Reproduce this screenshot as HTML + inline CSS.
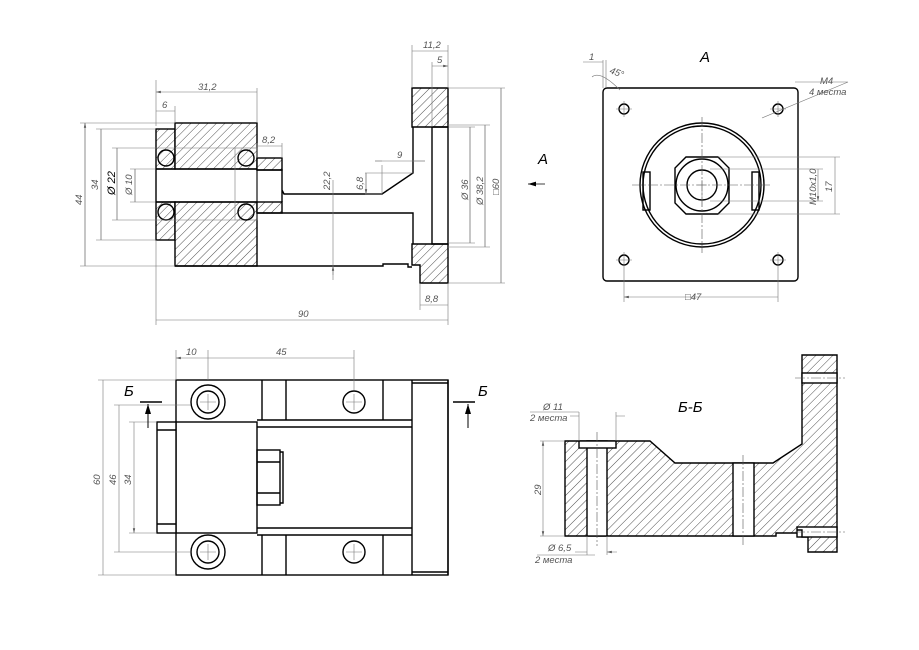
<!DOCTYPE html>
<html><head><meta charset="utf-8"><style>
html,body{margin:0;padding:0;background:#fff;width:919px;height:650px;overflow:hidden}
svg{display:block}
.k{stroke:#000;stroke-width:1.4;fill:none}
.h{stroke:#000;stroke-width:1.4;fill:url(#hat)}
.t{stroke:#777;stroke-width:0.6;fill:none}
.c{stroke:#555;stroke-width:0.6;fill:none;stroke-dasharray:10 2 2 2}
text{font-family:"Liberation Sans",sans-serif;font-style:italic;fill:#555;font-size:9.5px}
.b{fill:#000;font-size:15px}
</style></head><body>
<svg width="919" height="650" viewBox="0 0 919 650" xmlns="http://www.w3.org/2000/svg">
<defs>
<pattern id="hat" width="6" height="6" patternUnits="userSpaceOnUse" patternTransform="rotate(45)">
<rect width="6" height="6" fill="#fff"/><line x1="0" y1="0" x2="0" y2="6" stroke="#222" stroke-width="0.8"/></pattern>
<marker id="ar" markerWidth="8" markerHeight="6" refX="8" refY="3" orient="auto-start-reverse"><path d="M0,1 L8,3 L0,5z" fill="#555"/></marker>
<marker id="ab" markerWidth="10" markerHeight="8" refX="10" refY="4" orient="auto-start-reverse"><path d="M0,1 L10,4 L0,7z" fill="#000"/></marker>
</defs>

<!-- ===== Top-left view ===== -->
<rect class="h" x="156" y="129" width="19" height="40"/>
<rect class="h" x="156" y="202" width="19" height="38"/>
<rect class="h" x="175" y="123" width="82" height="46"/>
<rect class="h" x="175" y="202" width="82" height="64"/>
<rect class="k" x="156" y="169" width="101" height="33" fill="#fff"/>
<rect class="t" x="235" y="148" width="22" height="72"/>
<circle class="k" cx="166" cy="158" r="8" fill="#fff"/><circle class="k" cx="166" cy="212" r="8" fill="#fff"/>
<circle class="k" cx="246" cy="158" r="8" fill="#fff"/><circle class="k" cx="246" cy="212" r="8" fill="#fff"/>
<rect class="h" x="257" y="158" width="25" height="12"/>
<rect class="h" x="257" y="202" width="25" height="11"/>
<path class="k" d="M257 170 H282 V202 M282 190 L284 194 H382 L413 173 V127 M257 213 H413 V244 M175 266 H383 V264 H408 V267 H412"/>
<path class="h" d="M412 88 H448 V127 H412 Z"/>
<path class="h" d="M412 244 H448 V283 H420 V265 H412 Z"/>
<path class="k" d="M432 127 H448 V244 H432 Z" fill="#fff"/>
<g class="t">
<path d="M156 126 V80 M257 123 V88 M175 123 V106 M257 158 V143 M282 158 V143 M156 240 V325 M448 283 V325 M420 283 V310 M412 88 V45 M448 88 V45 M432 127 V62"/>
<path d="M80 123 H175 M80 266 H175 M96 129 H156 M96 240 H156 M112 148 H235 M112 220 H235 M130 169 H156 M130 202 H156 M448 88 H505 M448 283 H505 M448 125 H490 M448 247 H490 M448 127 H475 M448 243 H475 M365 194 H382 M365 173 H413 M375 161 H425"/>
<path d="M85 123 V266 M101 129 V240 M117 148 V220 M135 169 V202 M333 194 V275 M366 173 V194 M501 88 V283 M485 125 V247 M470 127 V243 M382 165 V194"/>
<path marker-start="url(#ar)" marker-end="url(#ar)" d="M156 92 H257 M156 111 H175 M257 146 H282 M156 320 H448 M420 305 H448 M412 51 H448 M432 66 H448"/>
<path marker-start="url(#ar)" marker-end="url(#ar)" d="M85 123 V266 M101 129 V240 M117 148 V220 M135 169 V202 M501 88 V283 M485 125 V247 M470 127 V243 M366 173 V194"/>
<path marker-end="url(#ar)" d="M375 161 H382 M425 161 H413 M333 180 V194 M333 280 V266"/>
</g>
<path d="M545 184 H528" stroke="#000" stroke-width="0.8" marker-end="url(#ab)"/>
<text x="198" y="90">31,2</text><text x="162" y="108">6</text><text x="262" y="143">8,2</text>
<text x="298" y="317">90</text><text x="425" y="302">8,8</text><text x="423" y="48">11,2</text><text x="437" y="63">5</text>
<text x="397" y="158">9</text>
<text transform="translate(82,205) rotate(-90)">44</text>
<text transform="translate(98,190) rotate(-90)">34</text>
<text transform="translate(115,195) rotate(-90)" style="font-size:11px;fill:#000">Ø 22</text>
<text transform="translate(132,195) rotate(-90)">Ø 10</text>
<text transform="translate(330,190) rotate(-90)">22,2</text>
<text transform="translate(363,190) rotate(-90)">6,8</text>
<text transform="translate(468,200) rotate(-90)">Ø 36</text>
<text transform="translate(483,205) rotate(-90)">Ø 38,2</text>
<text transform="translate(499,195) rotate(-90)">□60</text>
<text class="b" x="538" y="164">A</text>

<!-- ===== View A ===== -->
<rect class="k" x="603" y="88" width="195" height="193" rx="4"/>
<g class="k">
<circle cx="624" cy="109" r="5"/><circle cx="778" cy="109" r="5"/><circle cx="624" cy="260" r="5"/><circle cx="778" cy="260" r="5"/>
<circle cx="702" cy="185" r="62"/><circle cx="702" cy="185" r="59"/>
<path d="M686 157 H718 L729 168 V203 L718 214 H686 L675 203 V168 Z"/>
<circle cx="702" cy="185" r="26"/><circle cx="702" cy="185" r="15"/>
<rect x="643" y="172" width="7" height="38"/><rect x="752" y="172" width="7" height="38"/>
</g>
<g class="c"><path d="M632 185 H772 M702 117 V253"/></g>
<g class="t">
<path d="M616 109 H632 M624 101 V117 M770 109 H786 M778 101 V117 M616 260 H632 M624 252 V268 M770 260 H786 M778 252 V268 M697 185 H707 M702 180 V207"/>
<path d="M624 268 V302 M778 268 V302 M718 157 H840 M718 214 H840 M710 169 H823 M710 201 H823 M603 88 V60 M606 88 V60 M595 62 H603 M583 62 H595 M795 82 H848 L762 118"/>
<path marker-start="url(#ar)" marker-end="url(#ar)" d="M624 297 H778 M835 157 V214 M818 169 V201"/>
<path d="M592 77 Q600 70 620 90"/>
</g>
<text x="685" y="300">□47</text><text x="589" y="60">1</text><text x="609" y="73" transform="rotate(20 609 73)">45°</text>
<text x="820" y="84">M4</text><text x="809" y="95">4 места</text>
<text transform="translate(816,205) rotate(-90)">M10x1,0</text><text transform="translate(832,192) rotate(-90)">17</text>
<text class="b" x="700" y="62">A</text>

<!-- ===== Bottom-left view ===== -->
<g class="k">
<rect x="176" y="380" width="272" height="195"/>
<path d="M262 380 V420 M286 380 V420 M383 380 V420 M412 380 V575 M262 535 V575 M286 535 V575 M383 535 V575 M448 380 V575"/>
<path d="M412 383 H448 M412 572 H448"/>
<rect x="176" y="422" width="81" height="111" fill="#fff"/>
<rect x="157" y="422" width="19" height="111" fill="#fff"/>
<path d="M157 430 H176 M157 524 H176"/>
<path d="M257 420 H412 M257 427 H412 M257 528 H412 M257 535 H412"/>
<rect x="257" y="450" width="23" height="55"/><path d="M280 452 H283 V503 H280 M257 462 H280 M257 493 H280"/>
<circle cx="208" cy="402" r="17"/><circle cx="208" cy="402" r="11"/>
<circle cx="208" cy="552" r="17"/><circle cx="208" cy="552" r="11"/>
<circle cx="354" cy="402" r="11"/><circle cx="354" cy="552" r="11"/>
</g>
<g class="t">
<path d="M200 402 H216 M208 394 V410 M200 552 H216 M208 544 V560 M346 402 H362 M354 394 V410 M346 552 H362 M354 544 V560 M208 380 V350 M176 380 V350 M354 390 V350"/>
<path d="M98 380 H176 M98 575 H176 M114 405 H191 M114 552 H191 M129 422 H157 M129 533 H157"/>
<path marker-start="url(#ar)" marker-end="url(#ar)" d="M176 358 H208 M208 358 H354 M103 380 V575 M119 405 V552 M134 422 V533"/>
</g>
<g stroke="#000" stroke-width="1.5"><path d="M140 402 H162 M453 402 H475"/></g>
<path d="M148 428 V404" stroke="#000" stroke-width="1" marker-end="url(#ab)"/>
<path d="M468 428 V404" stroke="#000" stroke-width="1" marker-end="url(#ab)"/>
<text class="b" x="124" y="396">Б</text><text class="b" x="478" y="396">Б</text>
<text x="186" y="355">10</text><text x="276" y="355">45</text>
<text transform="translate(100,485) rotate(-90)">60</text><text transform="translate(116,485) rotate(-90)">46</text><text transform="translate(131,485) rotate(-90)">34</text>

<!-- ===== Section Б-Б ===== -->
<path class="h" d="M565 441 H650 L675 463 H773 L802 444 V355 H837 V552 H808 V537 H802 V533 H776 V536 H565 Z"/>
<g class="k">
<rect x="587" y="441" width="20" height="95" fill="#fff"/>
<rect x="579" y="441" width="37" height="7" fill="#fff"/>
<rect x="733" y="463" width="21" height="73" fill="#fff"/>
<rect x="802" y="373" width="35" height="10" fill="#fff"/>
<rect x="797" y="527" width="40" height="10" fill="#fff"/>
<path d="M797 530 H802 V537"/>
</g>
<g class="c"><path d="M597 432 V546 M743 455 V546 M795 378 H845 M795 532 H845"/></g>
<g class="t">
<path d="M540 441 H565 M540 536 H565 M579 441 V412 M616 441 V412 M587 536 V555 M607 536 V555 M530 412 H579 M595 555 H537"/>
<path marker-start="url(#ar)" marker-end="url(#ar)" d="M543 441 V536"/>
<path marker-end="url(#ar)" d="M570 416 H579 M625 416 H616 M575 552 H587 M617 552 H607"/>
</g>
<text x="543" y="410">Ø 11</text><text x="530" y="421">2 места</text>
<text x="548" y="551">Ø 6,5</text><text x="535" y="563">2 места</text>
<text transform="translate(541,495) rotate(-90)">29</text>
<text class="b" x="678" y="412">Б-Б</text>
</svg>
</body></html>
